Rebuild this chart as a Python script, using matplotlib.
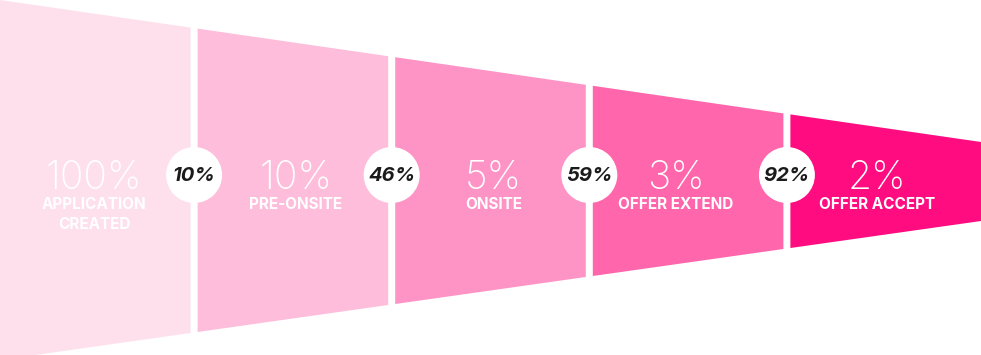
import numpy as np
import matplotlib.pyplot as plt
from matplotlib.patches import Polygon, Circle

stages = ["APPLICATION\nCREATED", "PRE-ONSITE", "ONSITE", "OFFER EXTEND", "OFFER ACCEPT"]
share = [100, 10, 5, 3, 2]
step_rate = [10, 46, 59, 92]
colors = ["#FEE0EC", "#FEBEDB", "#FE94C6", "#FF66AB", "#FF0C80"]
# small horizontal nudges for the text inside each block (px)
nudge = [-1, 3, 3, -12, -9]

W, H = 981, 355
gap = 7
seg_w = (W - gap * (len(stages) - 1)) / len(stages)


def top(x):
    return x * 142 / W


def bottom(x):
    return 360 - x * 139 / W


fig = plt.figure(figsize=(W / 100, H / 100), dpi=100)
ax = fig.add_axes([0, 0, 1, 1])
ax.set_xlim(0, W)
ax.set_ylim(H, 0)
ax.axis('off')

for i, (lab, v) in enumerate(zip(stages, share)):
    x0 = i * (seg_w + gap)
    x1 = x0 + seg_w
    ax.add_patch(Polygon([(x0, top(x0)), (x1, top(x1)), (x1, bottom(x1)), (x0, bottom(x0))],
                         closed=True, facecolor=colors[i], edgecolor='none'))
    xc = (x0 + x1) / 2 + nudge[i]
    ax.text(xc, 189, "%d%%" % v, color='white', fontsize=28, fontfamily='Inter',
            fontweight='light', ha='center', va='baseline')
    # one text per line so each baseline sits where it should
    for k, line in enumerate(lab.split('\n')):
        ax.text(xc, 209 + 20 * k, line, color='white', fontsize=11, fontfamily='Inter',
                fontweight='bold', ha='center', va='baseline')

for i, r in enumerate(step_rate):
    xc = (i + 1) * (seg_w + gap) - gap / 2
    ax.add_patch(Circle((xc, 175), 28, facecolor='white', edgecolor='none'))
    ax.text(xc, 176, "%d%%" % r, color='#1b1b1b', fontsize=14.5, fontfamily='Inter',
            fontweight='bold', fontstyle='italic', ha='center', va='center')

fig.savefig('out.png', dpi=100)
